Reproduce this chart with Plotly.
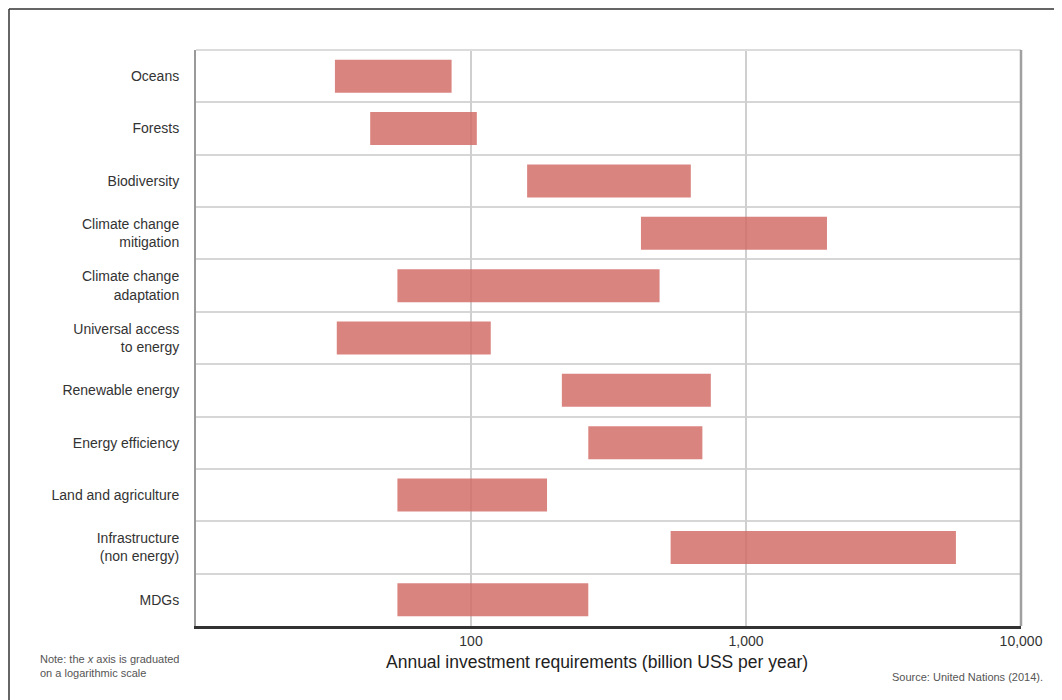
import plotly.graph_objects as go

categories = ["Oceans", "Forests", "Biodiversity", "Climate change<br>mitigation",
              "Climate change<br>adaptation", "Universal access<br>to energy",
              "Renewable energy", "Energy efficiency", "Land and agriculture",
              "Infrastructure<br>(non energy)", "MDGs"]
low_values = [32, 43, 160, 415, 54, 32.5, 214, 267, 54, 532, 54]
high_values = [85, 105, 630, 1970, 485, 118, 745, 694, 189, 5800, 267]
x_tickvals = [100, 1000, 10000]
x_ticktext = ["100", "1,000", "10,000"]

FONT = "Liberation Sans Narrow, Arial Narrow, Liberation Sans, sans-serif"

# page body has an 8px margin; figure is sized to fill the remaining window
W, H = 1054, 692
L, R, T, B = 188, 41, 42, 74
PW, PH = W - L - R, H - T - B


def px(x):
    return (x - 8 - L) / PW


def py(y):
    return (H - B - (y - 8)) / PH


ypos = list(range(len(categories)))
fig = go.Figure()
fig.add_trace(go.Bar(
    y=ypos,
    x=[h - l for l, h in zip(low_values, high_values)],
    base=low_values,
    orientation="h",
    width=0.63,
    marker=dict(color="rgba(210,105,100,0.82)", line=dict(width=0)),
    hoverinfo="skip",
))

fig.update_layout(
    width=W, height=H,
    margin=dict(l=L, r=R, t=T, b=B),
    paper_bgcolor="white", plot_bgcolor="white",
    showlegend=False,
    font=dict(family=FONT, color="#333"),
    xaxis=dict(type="log", range=[1, 4], tickvals=x_tickvals, ticktext=x_ticktext,
               showgrid=True, gridcolor="#cfcfcf", gridwidth=1.5,
               showline=True, linecolor="#333", linewidth=3,
               ticks="", tickfont=dict(size=14, color="#333"), zeroline=False),
    yaxis=dict(range=[len(categories) - 0.5, -0.5], tickvals=ypos, ticktext=categories,
               showgrid=False, showline=True, linecolor="#9a9a9a", linewidth=2,
               ticks="", ticklabelstandoff=12, tickfont=dict(size=14, color="#333"),
               zeroline=False,
               minor=dict(tickvals=[i + 0.5 for i in ypos[:-1]], showgrid=True,
                          gridcolor="#d6d6d6", gridwidth=1.5, ticks="")),
)

# top and right plot borders
fig.add_shape(type="line", xref="paper", yref="paper", x0=0, x1=1, y0=1, y1=1,
              line=dict(color="#dcdcdc", width=2))
fig.add_shape(type="line", xref="paper", yref="paper", x0=1, x1=1, y0=0, y1=1,
              line=dict(color="#a0a0a0", width=2.5))
# outer frame (top and left), as close to the page edge as the figure allows
fig.add_shape(type="line", xref="paper", yref="paper", x0=px(9), x1=px(1070),
              y0=py(9), y1=py(9), line=dict(color="#333", width=1.5))
fig.add_shape(type="line", xref="paper", yref="paper", x0=px(9), x1=px(9),
              y0=py(9), y1=py(710), line=dict(color="#333", width=1.5))

fig.add_annotation(text="Annual investment requirements (billion USS per year)",
                   xref="paper", yref="paper", x=px(597), y=py(662),
                   xanchor="center", yanchor="middle", showarrow=False,
                   font=dict(size=17.5, color="#222", family=FONT))
fig.add_annotation(text="Note: the <i>x</i> axis is graduated<br>on a logarithmic scale",
                   xref="paper", yref="paper", x=px(38), y=py(666),
                   xanchor="left", yanchor="middle", align="left", showarrow=False,
                   font=dict(size=11, color="#555", family=FONT))
fig.add_annotation(text="Source: United Nations (2014).",
                   xref="paper", yref="paper", x=px(1045), y=py(677),
                   xanchor="right", yanchor="middle", showarrow=False,
                   font=dict(size=11, color="#555", family=FONT))

fig.write_html("out.html")
